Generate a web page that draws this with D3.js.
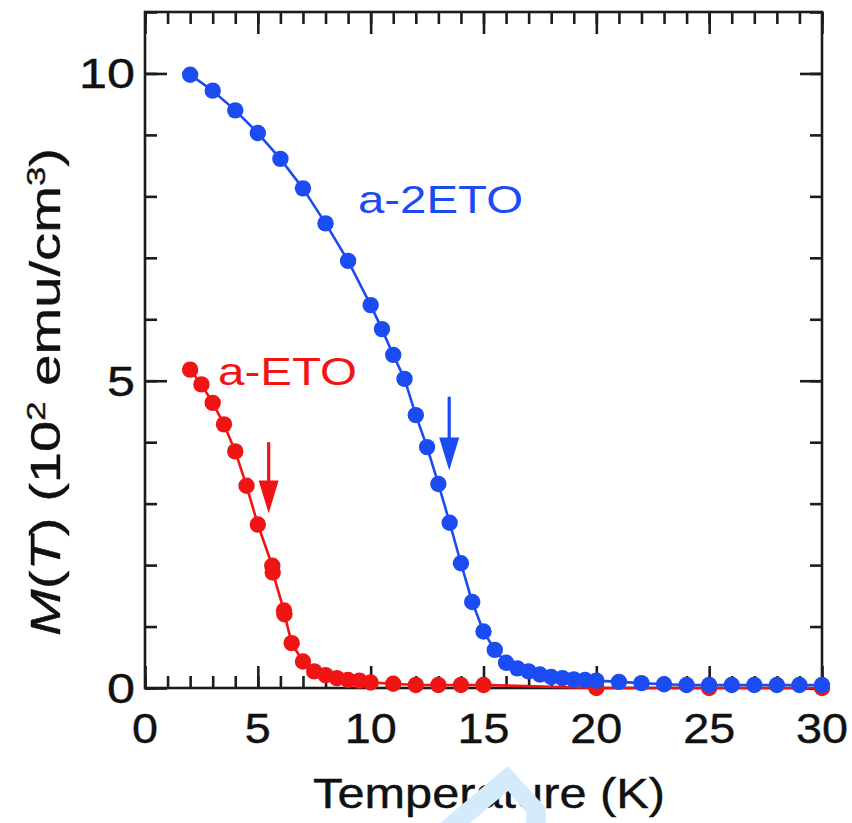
<!DOCTYPE html>
<html>
<head>
<meta charset="utf-8">
<script src="https://cdn.jsdelivr.net/npm/d3@7"></script>
<style>
  html, body { margin: 0; padding: 0; background: #fff; }
  svg { display: block; }
  text { font-family: "Liberation Sans", Arial, Helvetica, sans-serif; }
</style>
</head>
<body>
<svg id="chart" width="852" height="823"></svg>
<script>
// Magnetization M(T) in units of 10^2 emu/cm^3 versus temperature (K)
const blueT = [2, 3, 4, 5, 6, 7, 8, 9, 10, 10.5, 11, 11.5, 12, 12.5, 13, 13.5, 14, 14.5, 15, 15.5,
               16, 16.5, 17, 17.5, 18, 18.5, 19, 19.5, 20, 21, 22, 23, 24, 25, 26, 27, 28, 29, 30];
const blueM = [9.98, 9.72, 9.40, 9.03, 8.61, 8.13, 7.56, 6.95, 6.23, 5.84, 5.42, 5.03, 4.44, 3.92, 3.32, 2.69, 2.03, 1.40, 0.92, 0.62,
               0.41, 0.32, 0.27, 0.22, 0.18, 0.16, 0.14, 0.13, 0.12, 0.10, 0.08, 0.06, 0.05, 0.05, 0.05, 0.05, 0.05, 0.05, 0.05];

const redT = [2, 2.5, 3, 3.5, 4, 4.5, 5, 5.64, 5.66, 6.16, 6.18, 6.5, 7, 7.5, 8, 8.5, 9, 9.5, 10,
              11, 12, 13, 14, 15, 20, 25, 30];
const redM = [5.18, 4.94, 4.64, 4.29, 3.85, 3.29, 2.66, 1.99, 1.88, 1.26, 1.20, 0.73, 0.43, 0.27, 0.21, 0.16, 0.13, 0.12, 0.09,
              0.07, 0.05, 0.05, 0.05, 0.05, 0.0, 0.0, 0.0];

const seriesNames = ["a-2ETO", "a-ETO"];
const seriesColors = ["#1b4cf2", "#f01515"];

// Transition markers: temperature, arrow tail and tip in M units
const arrowT = [13.48, 5.48];
const arrowFrom = [4.74, 4.0];
const arrowTo = [3.54, 2.84];

const xTicks = [0, 5, 10, 15, 20, 25, 30];
const yTicks = [0, 5, 10];
const xMinor = d3.range(0, 31, 1);
const yMinor = d3.range(0, 12, 1);

const svg = d3.select("#chart");
const W = 852, H = 823;
const m = { left: 145, top: 12, right: 30, bottom: 135 };

const x = d3.scaleLinear().domain([0, 30]).range([m.left, W - m.right]);
const y = d3.scaleLinear().domain([0, 11]).range([H - m.bottom, m.top]);

const axisColor = "#1c1c1c";
const axisW = 2.6;

// Inward ticks on all four sides
function styleAxis(g) {
  g.selectAll("path").remove();
  g.selectAll("line").attr("stroke", axisColor).attr("stroke-width", axisW);
  g.selectAll("text").remove();
}
const yBot = y(0), yTop = y(11), xL = x(0), xR = x(30);

svg.append("g").attr("transform", `translate(0,${yBot})`)
  .call(d3.axisBottom(x).tickValues(xMinor).tickSize(-12)).call(styleAxis);
svg.append("g").attr("transform", `translate(0,${yBot})`)
  .call(d3.axisBottom(x).tickValues(xTicks).tickSize(-22)).call(styleAxis);
svg.append("g").attr("transform", `translate(0,${yTop})`)
  .call(d3.axisTop(x).tickValues(xMinor).tickSize(-12)).call(styleAxis);
svg.append("g").attr("transform", `translate(0,${yTop})`)
  .call(d3.axisTop(x).tickValues(xTicks).tickSize(-22)).call(styleAxis);
svg.append("g").attr("transform", `translate(${xL},0)`)
  .call(d3.axisLeft(y).tickValues(yMinor).tickSize(-12)).call(styleAxis);
svg.append("g").attr("transform", `translate(${xL},0)`)
  .call(d3.axisLeft(y).tickValues(yTicks).tickSize(-22)).call(styleAxis);
svg.append("g").attr("transform", `translate(${xR},0)`)
  .call(d3.axisRight(y).tickValues(yMinor).tickSize(-12)).call(styleAxis);
svg.append("g").attr("transform", `translate(${xR},0)`)
  .call(d3.axisRight(y).tickValues(yTicks).tickSize(-22)).call(styleAxis);

// Frame
svg.append("rect")
  .attr("x", xL).attr("y", yTop).attr("width", xR - xL).attr("height", yBot - yTop)
  .attr("fill", "none").attr("stroke", axisColor).attr("stroke-width", axisW);

// Stretch a text horizontally (along its own baseline) to a target width
function fit(sel, tx, ty, target, rot) {
  const w = sel.node().getComputedTextLength();
  const s = target / w;
  sel.attr("transform", `translate(${tx},${ty}) rotate(${rot || 0}) scale(${s},1)`);
}

// Tick labels
svg.append("g").selectAll("text").data(xTicks).join("text")
  .attr("text-anchor", "middle").attr("font-size", 42).attr("fill", "#111")
  .attr("stroke", "#111").attr("stroke-width", 0.4)
  .text(d => d)
  .each(function (d) { fit(d3.select(this), x(d), 743, String(d).length * 26); });

svg.append("g").selectAll("text").data(yTicks).join("text")
  .attr("text-anchor", "end").attr("font-size", 42).attr("fill", "#111")
  .attr("stroke", "#111").attr("stroke-width", 0.4)
  .text(d => d)
  .each(function (d) { fit(d3.select(this), 135, y(d) + 15, String(d).length * 28); });

// Axis titles
const xt = svg.append("text").attr("text-anchor", "middle").attr("font-size", 43).attr("fill", "#111")
  .attr("stroke", "#111").attr("stroke-width", 0.4)
  .text("Temperature (K)");
fit(xt, 489, 808, 352);

const yt = svg.append("text").attr("text-anchor", "middle").attr("font-size", 42).attr("fill", "#111")
  .attr("stroke", "#111").attr("stroke-width", 0.4);
yt.append("tspan").attr("font-style", "italic").text("M");
yt.append("tspan").text("(");
yt.append("tspan").attr("font-style", "italic").text("T");
yt.append("tspan").text(") (10");
yt.append("tspan").attr("font-size", 26).attr("dy", -15).text("2");
yt.append("tspan").attr("dy", 15).text(" emu/cm");
yt.append("tspan").attr("font-size", 26).attr("dy", -15).text("3");
yt.append("tspan").attr("dy", 15).text(")");
fit(yt, 60, 392, 488, -90);

// Series
const series = [
  { t: redT, m: redM, color: seriesColors[1] },
  { t: blueT, m: blueM, color: seriesColors[0] }
];
const line = d3.line().x(d => x(d[0])).y(d => y(d[1]));
series.forEach(s => {
  const pts = s.t.map((t, i) => [t, s.m[i]]);
  const g = svg.append("g");
  g.append("path").datum(pts).attr("d", line)
    .attr("fill", "none").attr("stroke", s.color).attr("stroke-width", 2.6);
  g.selectAll("circle").data(pts).join("circle")
    .attr("cx", d => x(d[0])).attr("cy", d => y(d[1])).attr("r", 8.2)
    .attr("fill", s.color);
});

// Transition arrows
arrowT.forEach((t, i) => {
  const c = seriesColors[i];
  const ax = x(t), y0 = y(arrowFrom[i]), y1 = y(arrowTo[i]);
  const hh = 33, hw = 10;
  svg.append("line").attr("x1", ax).attr("x2", ax).attr("y1", y0).attr("y2", y1 - hh + 2)
    .attr("stroke", c).attr("stroke-width", 3.2);
  svg.append("path")
    .attr("d", `M${ax - hw},${y1 - hh} L${ax + hw},${y1 - hh} L${ax},${y1} Z`)
    .attr("fill", c);
});

// Series labels
const lb = svg.append("text").attr("font-size", 38).attr("fill", seriesColors[0]).text(seriesNames[0]);
fit(lb, 358, 213, 165);
const lr = svg.append("text").attr("font-size", 38).attr("fill", seriesColors[1]).text(seriesNames[1]);
fit(lr, 218, 385, 139);

// Faint logo mark at the bottom edge
svg.append("path")
  .attr("d", "M508,766 L546,808 L546,823 L440,823 Z M508,791 L526,812 L526,823 L470,823 Z")
  .attr("fill", "#d3ebfb").attr("fill-rule", "evenodd");
</script>
</body>
</html>
